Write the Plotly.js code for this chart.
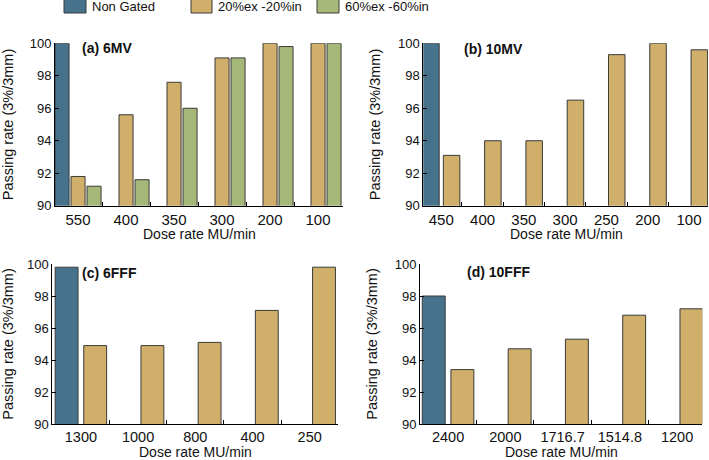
<!DOCTYPE html>
<html>
<head>
<meta charset="utf-8">
<script src="https://cdn.plot.ly/plotly-3.0.1.min.js"></script>
<style>html,body{margin:0;padding:0;background:#fff;}#chart{width:709px;height:460px;}</style>
</head>
<body>
<div id="chart"></div>
<script>
// ---- data ----
const seriesNames = ["Non Gated", "20%ex -20%in", "60%ex -60%in"];
const panelTitles = ["(a) 6MV", "(b) 10MV", "(c) 6FFF", "(d) 10FFF"];

const catsA = ["550", "400", "350", "300", "200", "100"];
const nonGatedA = [100];
const ex20A = [91.8, 95.6, 97.6, 99.1, 100, 100];
const ex60A = [91.2, 91.6, 96.0, 99.1, 99.8, 100];

const catsB = ["450", "400", "350", "300", "250", "200", "100"];
const nonGatedB = [100];
const ex20B = [93.1, 94.0, 94.0, 96.5, 99.3, 100, 99.6];

const catsC = ["1300", "1000", "800", "400", "250"];
const nonGatedC = [99.8];
const ex20C = [94.9, 94.9, 95.1, 97.1, 99.8];

const catsD = ["2400", "2000", "1716.7", "1514.8", "1200"];
const nonGatedD = [98.0];
const ex20D = [93.4, 94.7, 95.3, 96.8, 97.2];

const xTitle = "Dose rate MU/min";
const yTitle = "Passing rate (3%/3mm)";

// ---- styles ----
const colors = ["#47728B", "#CFAF6A", "#A5B877"];
const outline = {color: "#3a3a3a", width: 1};
const W = 709, H = 460;
const px = v => v / W;
const py = v => 1 - v / H;

function bar(name, cats, vals, idx, ax, extra) {
  return Object.assign({
    type: "bar", name: name,
    x: cats.slice(0, vals.length), y: vals,
    xaxis: "x" + ax, yaxis: "y" + ax,
    marker: {color: colors[idx], line: outline},
    showlegend: false, hoverinfo: "x+y+name"
  }, extra || {});
}

const traces = [
  bar(seriesNames[0], catsA, nonGatedA, 0, "", {width: 0.293}),
  bar(seriesNames[1], catsA, ex20A, 1, "", {width: 0.293}),
  bar(seriesNames[2], catsA, ex60A, 2, "", {width: 0.293}),
  bar(seriesNames[0], catsB, nonGatedB, 0, "2"),
  bar(seriesNames[1], catsB, ex20B, 1, "2"),
  bar(seriesNames[0], catsC, nonGatedC, 0, "3"),
  bar(seriesNames[1], catsC, ex20C, 1, "3"),
  bar(seriesNames[0], catsD, nonGatedD, 0, "4"),
  bar(seriesNames[1], catsD, ex20D, 1, "4")
];

const baseFont = {family: "Liberation Sans, Arial, sans-serif", color: "#111"};

function xAxis(cats, domain, range, anchor, fs) {
  return {
    type: "category", categoryorder: "array", categoryarray: cats,
    domain: domain, range: range, anchor: anchor,
    showline: true, linecolor: "#000", linewidth: 1,
    ticks: "inside", ticklen: 4, tickcolor: "#000", tickson: "boundaries",
    tickfont: Object.assign({size: fs}, baseFont),
    showgrid: false, zeroline: false, fixedrange: true
  };
}
function yAxis(domain, anchor) {
  return {
    domain: domain, range: [90, 100], anchor: anchor,
    dtick: 2, tick0: 90,
    showline: true, linecolor: "#000", linewidth: 1,
    ticks: "inside", ticklen: 4, tickcolor: "#000",
    tickfont: Object.assign({size: 13}, baseFont),
    showgrid: false, zeroline: false, fixedrange: true,
    title: {text: yTitle, font: Object.assign({size: 14.5}, baseFont), standoff: 13}
  };
}

const topY = [py(205.7), py(43.3)];
const botY = [py(424), py(264)];

const layout = {
  width: W, height: H, autosize: false,
  margin: {l: 0, r: 0, t: 0, b: 0, pad: 0},
  paper_bgcolor: "#fff", plot_bgcolor: "rgba(0,0,0,0)",
  barmode: "group", bargap: 0, bargroupgap: 0.2,
  showlegend: false,
  font: baseFont,
  xaxis: xAxis(catsA, [px(55), px(343)], [-0.48, 5.52], "y", 15),
  yaxis: yAxis(topY, "x"),
  xaxis2: xAxis(catsB, [px(423.3), px(708)], [-0.435, 6.46], "y2", 15),
  yaxis2: yAxis(topY, "x2"),
  xaxis3: xAxis(catsC, [px(52.3), px(338.3)], [-0.5, 4.5], "y3", 14.5),
  yaxis3: yAxis(botY, "x3"),
  xaxis4: xAxis(catsD, [px(420), px(702.3)], [-0.49, 4.44], "y4", 14.5),
  yaxis4: yAxis(botY, "x4"),
  shapes: [],
  annotations: []
};

// x-axis titles (placed under each panel)
const xTitlePos = [[199, 234], [566, 234], [195, 452], [561, 452]];
xTitlePos.forEach(p => {
  layout.annotations.push({
    xref: "paper", yref: "paper", x: px(p[0]), y: py(p[1]),
    xanchor: "center", yanchor: "middle", showarrow: false,
    text: xTitle, font: Object.assign({size: 14}, baseFont)
  });
});

// panel labels
const labelPos = [[80, 48], [462, 49], [80, 273], [465, 272]];
panelTitles.forEach((t, i) => {
  layout.annotations.push({
    xref: "paper", yref: "paper", x: px(labelPos[i][0]), y: py(labelPos[i][1]),
    xanchor: "left", yanchor: "middle", showarrow: false,
    text: "<b>" + t + "</b>", font: Object.assign({size: 14}, baseFont)
  });
});

// custom legend (boxes + text)
const legBox = [[64, 86], [191, 212], [317, 339]];
const legText = [90, 216, 343];
seriesNames.forEach((n, i) => {
  layout.shapes.push({
    type: "rect", xref: "paper", yref: "paper",
    x0: px(legBox[i][0]), x1: px(legBox[i][1]), y0: py(13), y1: py(-1),
    fillcolor: colors[i], line: {color: "#3a3a3a", width: 1}
  });
  layout.annotations.push({
    xref: "paper", yref: "paper", x: px(legText[i]), y: py(6.5),
    xanchor: "left", yanchor: "middle", showarrow: false,
    text: n, font: {family: "Liberation Sans Narrow, Arial Narrow, Liberation Sans, sans-serif", size: 13, color: "#111"}
  });
});

Plotly.newPlot("chart", traces, layout, {displayModeBar: false, staticPlot: true});
</script>
</body>
</html>
